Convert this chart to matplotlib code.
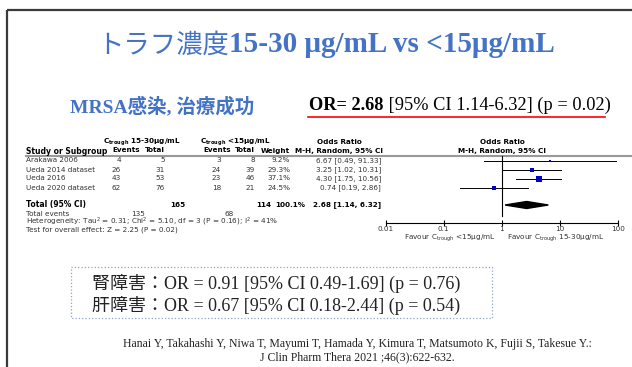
import numpy as np
import matplotlib
matplotlib.use("Agg")
import matplotlib.pyplot as plt
from matplotlib.patches import Rectangle, Polygon

plt.rcParams['font.family'] = ['DejaVu Sans', 'Noto Sans CJK JP']
plt.rcParams['mathtext.default'] = 'regular'

# --- data ---
studies = ["Arakawa 2006", "Ueda 2014 dataset", "Ueda 2016", "Ueda 2020 dataset"]
ev_hi = [4, 26, 43, 62]
tot_hi = [5, 31, 53, 76]
ev_lo = [3, 24, 23, 18]
tot_lo = [8, 39, 46, 21]
weights = [9.2, 29.3, 37.1, 24.5]
or_est = [6.67, 3.25, 4.30, 0.74]
or_low = [0.49, 1.02, 1.75, 0.19]
or_high = [91.33, 10.31, 10.56, 2.86]
pooled = (2.68, 1.14, 6.32)
total_hi, total_lo = 165, 114
total_ev_hi, total_ev_lo = 135, 68
ticks = [0.01, 0.1, 1, 10, 100]
tick_labels = ["0.01", "0.1", "1", "10", "100"]

W, H = 632, 367
fig = plt.figure(figsize=(W / 100, H / 100), dpi=100)
ax = fig.add_axes([0, 0, 1, 1])
ax.set_xlim(0, W)
ax.set_ylim(H, 0)
ax.axis('off')

blue = '#4472C4'
serif_jp = ['Liberation Serif', 'Noto Sans CJK JP']
grey_txt = '#333333'
r = fig.canvas.get_renderer()


def text_runs(x, y, runs, gap=0, **kw):
    # draw consecutive pieces of text with their own font settings, left to right
    for s, opts in runs:
        t = ax.text(x, y, s, ha='left', va='center', **kw, **opts)
        bb = t.get_window_extent(renderer=r)
        x = ax.transData.inverted().transform((bb.x1, 0))[0] + gap
    return x


# slide frame
ax.plot([7, 7], [10, H], color='#3a3a3a', lw=1.6, solid_capstyle='butt')
ax.plot([7, W], [10, 10], color='#3a3a3a', lw=1.6, solid_capstyle='butt')

# title
text_runs(97, 45, [("トラフ濃度", dict(family='Noto Sans CJK JP', fontsize=19)),
                   ("15-30 μg/mL vs <15μg/mL", dict(family='Liberation Serif', fontsize=21,
                                                     fontweight='bold'))],
          color=blue)

ax.text(70, 106, "MRSA感染, 治療成功", family=serif_jp, fontsize=14,
        fontweight='bold', color=blue, ha='left', va='center')

text_runs(309, 105, [("OR= 2.68", dict(fontweight='bold')),
                     (" [95% CI 1.14-6.32] (p = 0.02)", {})],
          family='Liberation Serif', fontsize=13.2, color='black')
ax.plot([308, 605], [117, 117], color='red', lw=1.2)

# --- table ---
fs = 5.2
col_ev_hi, col_tot_hi, col_ev_lo, col_tot_lo, col_w, col_or = 121, 165, 221, 255, 290, 381
ax.text(103, 142, r"C$_{trough}$ 15-30μg/mL", fontsize=fs, fontweight='bold', ha='left', va='center')
ax.text(200, 142, r"C$_{trough}$ <15μg/mL", fontsize=fs, fontweight='bold', ha='left', va='center')
ax.text(26, 151, "Study or Subgroup", fontsize=fs + 0.3, fontweight='bold', ha='left', va='center')
ax.text(126, 150.5, "Events", fontsize=fs, fontweight='bold', ha='center', va='center')
ax.text(col_tot_hi, 150.5, "Total", fontsize=fs, fontweight='bold', ha='right', va='center')
ax.text(217, 150.5, "Events", fontsize=fs, fontweight='bold', ha='center', va='center')
ax.text(col_tot_lo, 150.5, "Total", fontsize=fs, fontweight='bold', ha='right', va='center')
ax.text(col_w, 150.5, "Weight", fontsize=fs, fontweight='bold', ha='right', va='center')
ax.text(339, 142.5, "Odds Ratio", fontsize=fs, fontweight='bold', ha='center', va='center')
ax.text(339, 150.5, "M-H, Random, 95% CI", fontsize=fs, fontweight='bold', ha='center', va='center')
ax.text(502, 142.5, "Odds Ratio", fontsize=fs, fontweight='bold', ha='center', va='center')
ax.text(502, 150.5, "M-H, Random, 95% CI", fontsize=fs, fontweight='bold', ha='center', va='center')
ax.plot([26, W], [156, 156], color='#999999', lw=1.5)

rows_y = [160.5, 169.5, 178.5, 187.5]
for i, y in enumerate(rows_y):
    ax.text(26, y, studies[i], fontsize=fs, ha='left', va='center', color=grey_txt)
    ax.text(col_ev_hi, y, str(ev_hi[i]), fontsize=fs, ha='right', va='center', color=grey_txt)
    ax.text(col_tot_hi, y, str(tot_hi[i]), fontsize=fs, ha='right', va='center', color=grey_txt)
    ax.text(col_ev_lo, y, str(ev_lo[i]), fontsize=fs, ha='right', va='center', color=grey_txt)
    ax.text(col_tot_lo, y, str(tot_lo[i]), fontsize=fs, ha='right', va='center', color=grey_txt)
    ax.text(col_w, y, f"{weights[i]:.1f}%", fontsize=fs, ha='right', va='center', color=grey_txt)
    ax.text(col_or, y, f"{or_est[i]:.2f} [{or_low[i]:.2f}, {or_high[i]:.2f}]",
            fontsize=fs, ha='right', va='center', color=grey_txt)

ax.text(26, 205, "Total (95% CI)", fontsize=fs + 0.3, fontweight='bold', ha='left', va='center')
ax.text(185, 205, str(total_hi), fontsize=fs, fontweight='bold', ha='right', va='center')
ax.text(271, 205, str(total_lo), fontsize=fs, fontweight='bold', ha='right', va='center')
ax.text(305, 205, f"{sum(weights):.1f}%", fontsize=fs, fontweight='bold', ha='right', va='center')
ax.text(col_or, 205, f"{pooled[0]:.2f} [{pooled[1]:.2f}, {pooled[2]:.2f}]",
        fontsize=fs, fontweight='bold', ha='right', va='center')
ax.text(26, 213.5, "Total events", fontsize=fs, ha='left', va='center', color=grey_txt)
ax.text(145, 213.5, str(total_ev_hi), fontsize=fs, ha='right', va='center', color=grey_txt)
ax.text(234, 213.5, str(total_ev_lo), fontsize=fs, ha='right', va='center', color=grey_txt)
ax.text(26, 221.5, r"Heterogeneity: Tau$^2$ = 0.31; Chi$^2$ = 5.10, df = 3 (P = 0.16); I$^2$ = 41%",
        fontsize=fs, ha='left', va='center', color=grey_txt)
ax.text(26, 229.5, "Test for overall effect: Z = 2.25 (P = 0.02)",
        fontsize=fs, ha='left', va='center', color=grey_txt)

# --- forest plot ---
x0, x1, y_top, y_axis = 385.5, 618, 150, 222.5
fx = fig.add_axes([x0 / W, 1 - y_axis / H, (x1 - x0) / W, (y_axis - y_top) / H])
fx.set_xscale('log')
fx.set_xlim(0.01, 100)
fx.set_ylim(y_axis, y_top)
fx.patch.set_alpha(0)
for s in ['top', 'left', 'right']:
    fx.spines[s].set_visible(False)
fx.spines['bottom'].set_linewidth(0.8)
fx.set_yticks([])
fx.set_xticks(ticks)
fx.set_xticklabels(tick_labels, color=grey_txt)
fx.minorticks_off()
fx.tick_params(axis='x', direction='inout', length=5, width=0.8, labelsize=5.2, pad=0)

fx.plot([1, 1], [156, 216], color='black', lw=0.8)
for i, y in enumerate(rows_y):
    fx.plot([or_low[i], or_high[i]], [y, y], color='black', lw=0.7)
    fx.plot(or_est[i], y, marker='s', color='#0000CC', ms=0.6 * np.sqrt(weights[i]), mew=0)
pooled_y = 205
fx.add_patch(Polygon([(pooled[1], pooled_y), (pooled[0], pooled_y - 3.5),
                      (pooled[2], pooled_y), (pooled[0], pooled_y + 3.5)],
                     closed=True, color='black'))

ax.text(496, 238, r"Favour C$_{trough}$ <15μg/mL", fontsize=fs, ha='right', va='center', color=grey_txt)
ax.text(507, 238, r"Favour C$_{trough}$ 15-30μg/mL", fontsize=fs, ha='left', va='center', color=grey_txt)

# --- adverse events box ---
ax.add_patch(Rectangle((71, 267), 421, 51, fill=False, edgecolor='#8fa3c8', lw=0.9, ls=':'))
ax.text(92, 283, "腎障害：OR = 0.91 [95% CI 0.49-1.69] (p = 0.76)", family=serif_jp,
        fontsize=13, color='#222', ha='left', va='center')
ax.text(92, 305, "肝障害：OR = 0.67 [95% CI 0.18-2.44] (p = 0.54)", family=serif_jp,
        fontsize=13, color='#222', ha='left', va='center')

# --- reference ---
ax.text(357, 344, "Hanai Y, Takahashi Y, Niwa T, Mayumi T, Hamada Y, Kimura T, Matsumoto K, Fujii S, Takesue Y.:",
        family='Liberation Serif', fontsize=8.5, color='#222', ha='center', va='center')
ax.text(357, 357, "J Clin Pharm Thera 2021 ;46(3):622-632.",
        family='Liberation Serif', fontsize=8.5, color='#222', ha='center', va='center')

fig.savefig('out.png', dpi=100)
